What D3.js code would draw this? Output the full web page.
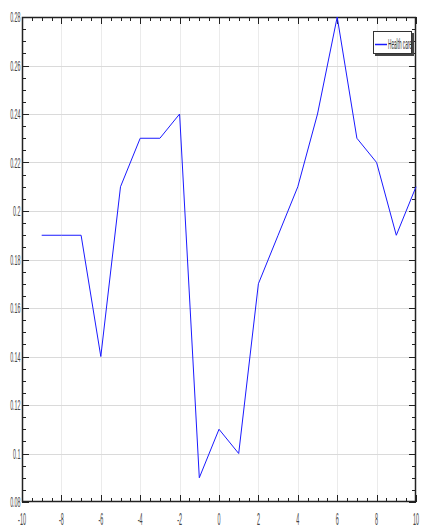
<!DOCTYPE html>
<html><head><meta charset="utf-8">
<script src="https://cdn.jsdelivr.net/npm/d3@7"></script>
<style>body{margin:0;background:#fff}svg{display:block}text{font-family:"Liberation Sans",Arial,sans-serif}</style>
</head><body>
<script>
const xValues = [-9,-8,-7,-6,-5,-4,-3,-2,-1,0,1,2,3,4,5,6,7,8,9,10];
const healthCare = [0.19,0.19,0.19,0.14,0.21,0.23,0.23,0.24,0.09,0.11,0.10,0.17,0.19,0.21,0.24,0.28,0.23,0.22,0.19,0.21];
const xTicks = [-10,-8,-6,-4,-2,0,2,4,6,8,10];
const yTicks = [0.08,0.1,0.12,0.14,0.16,0.18,0.2,0.22,0.24,0.26,0.28];
const seriesName = "Health care";

const W = 421, H = 530;
const L = 22, R = 416, T = 17, B = 502;
const svg = d3.select("body").append("svg").attr("width", W).attr("height", H);
const x = d3.scaleLinear().domain([-10,10]).range([L,R]);
const y = d3.scaleLinear().domain([0.08,0.28]).range([B,T]);

// grid
svg.append("g").selectAll("line").data(xTicks.slice(1,-1)).join("line")
  .attr("x1",d=>Math.round(x(d))+0.5).attr("x2",d=>Math.round(x(d))+0.5)
  .attr("y1",T).attr("y2",B).attr("stroke","#ebebeb").attr("stroke-width",1);
svg.append("g").selectAll("line").data(yTicks.slice(1,-1)).join("line")
  .attr("y1",d=>Math.round(y(d))+0.5).attr("y2",d=>Math.round(y(d))+0.5)
  .attr("x1",L).attr("x2",R).attr("stroke","#dadada").attr("stroke-width",1);

// minor/major ticks (inward) on all sides
const xMinor = d3.range(-10,10.001,0.5);
const yMinor = d3.range(0.08,0.28001,0.005);
const tk = svg.append("g").attr("stroke","#222").attr("stroke-width",1);
xMinor.forEach(v=>{
  const isMaj = xTicks.some(t=>Math.abs(t-v)<1e-6);
  const len = isMaj?7:4;
  const px = Math.round(x(v))+0.5;
  tk.append("line").attr("x1",px).attr("x2",px).attr("y1",B).attr("y2",B-len);
  tk.append("line").attr("x1",px).attr("x2",px).attr("y1",T).attr("y2",T+len);
});
yMinor.forEach(v=>{
  const isMaj = yTicks.some(t=>Math.abs(t-v)<1e-6);
  const len = isMaj?7:4;
  const py = Math.round(y(v))+0.5;
  tk.append("line").attr("y1",py).attr("y2",py).attr("x1",L).attr("x2",L+len);
  tk.append("line").attr("y1",py).attr("y2",py).attr("x1",R).attr("x2",R-len);
});
// frame
svg.append("rect").attr("x",L+0.5).attr("y",T+0.5).attr("width",R-L-1).attr("height",B-T-1)
  .attr("fill","none").attr("stroke","#222").attr("stroke-width",1.5);

// labels
const fmt = d=>String(+d.toFixed(2));
svg.append("g").selectAll("text").data(yTicks).join("text")
  .attr("transform",d=>`translate(20.5,${y(d)+5}) scale(0.38,1)`)
  .attr("text-anchor","end").attr("font-size",14).attr("fill","#444").text(fmt);
svg.append("g").selectAll("text").data(xTicks).join("text")
  .attr("transform",d=>`translate(${x(d)},${525}) scale(0.34,1)`)
  .attr("text-anchor","middle").attr("font-size",16).attr("fill","#444").text(d=>String(d));

// line
svg.append("path").datum(xValues.map((v,i)=>[v,healthCare[i]]))
  .attr("d", d3.line().x(d=>x(d[0])).y(d=>y(d[1])))
  .attr("fill","none").attr("stroke","#1a1aff").attr("stroke-width",1);

// legend
const lg = svg.append("g");
lg.append("rect").attr("x",375).attr("y",33).attr("width",39).attr("height",23)
  .attr("fill","#444").attr("stroke","none");
lg.append("rect").attr("x",373.5).attr("y",31.5).attr("width",38).attr("height",22)
  .attr("fill","#fff").attr("stroke","#333").attr("stroke-width",1);
lg.append("line").attr("x1",375).attr("x2",387).attr("y1",44.5).attr("y2",44.5)
  .attr("stroke","#1a1aff").attr("stroke-width",1.5);
lg.append("text").attr("transform","translate(388,49) scale(0.335,1)")
  .attr("font-size",14).attr("fill","#333").text(seriesName);
</script>
</body></html>
